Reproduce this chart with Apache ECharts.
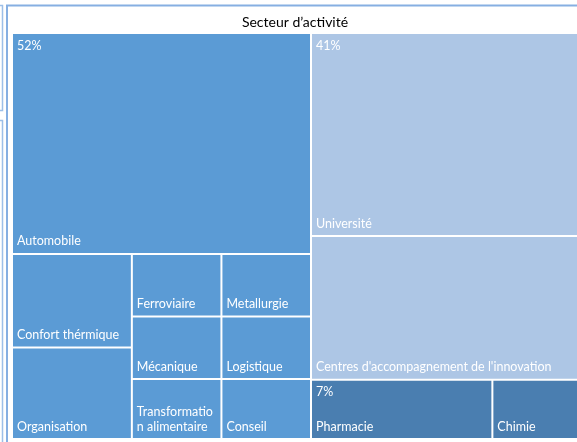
<!DOCTYPE html>
<html>
<head>
<meta charset="utf-8">
<script src="https://cdn.jsdelivr.net/npm/echarts@6/dist/echarts.min.js"></script>
<style>
  html, body { margin: 0; padding: 0; background: #fff; }
  #chart { width: 577px; height: 442px; }
</style>
</head>
<body>
<div id="chart"></div>
<script>
// Parent categories (shown in the top-left corner of each block)
const groupLabels = ['52%', '41%', '7%'];

// Sectors and their shares (%) per parent category
const sectorsA = ['Automobile', 'Confort thérmique', 'Organisation', 'Ferroviaire', 'Metallurgie',
                  'Mécanique', 'Transformation alimentaire', 'Logistique', 'Conseil'];
const sharesA  = [28.3, 4.8, 4.7, 2.4, 2.4, 2.4, 2.3, 2.4, 2.3];

const sectorsB = ['Université', "Centres d'accompagnement de l'innovation"];
const sharesB  = [24, 17];

const sectorsC = ['Pharmacie', 'Chimie'];
const sharesC  = [4.6, 2.4];

const palette = ['#5B9BD5', '#ADC6E5', '#4A7EB0'];
const FONT = 'Lato';
const LABEL_SIZE = 12.5;

const groups = [[sectorsA, sharesA], [sectorsB, sharesB], [sectorsC, sharesC]];

function buildTree(transparent) {
  return groups.map(([names, values], g) => ({
    name: groupLabels[g],
    itemStyle: { color: transparent ? 'rgba(0,0,0,0)' : palette[g] },
    children: names.map((n, i) => ({
      name: n,
      value: values[i],
      itemStyle: { color: transparent ? 'rgba(0,0,0,0)' : palette[g] }
    }))
  }));
}

const firstLeaves = new Set(groups.map(([names]) => names[0]));

function levelsFor(border) {
  return [
    { itemStyle: { borderWidth: 0, gapWidth: 2, borderColor: border } },
    { itemStyle: { borderWidth: 0, gapWidth: 2, borderColor: border } },
    { itemStyle: { borderWidth: 0 } }
  ];
}

const box = { left: 13, top: 34, width: 573, height: 404 };

const chart = echarts.init(document.getElementById('chart'), null, { renderer: 'canvas' });
chart.setOption({
  animation: false,
  title: {
    text: 'Secteur d\u2019activité',
    left: 290, top: 10, textAlign: 'center',
    textStyle: { fontFamily: FONT, fontSize: 14, fontWeight: 'normal', color: '#000' }
  },
  graphic: [
    { type: 'polyline', silent: true,
      shape: { points: [[0, 5.5], [2.5, 5.5], [2.5, 110.5], [0, 110.5]] },
      style: { stroke: '#9DBFE8', lineWidth: 1.5, fill: null } },
    { type: 'polyline', silent: true,
      shape: { points: [[0, 120.5], [2.5, 120.5], [2.5, 442]] },
      style: { stroke: '#9DBFE8', lineWidth: 1.5, fill: null } },
    { type: 'polyline', silent: true,
      shape: { points: [[7, 442], [7, 5.5], [577, 5.5]] },
      style: { stroke: '#86AFE2', lineWidth: 2, fill: null } }
  ],
  series: [
    {
      type: 'treemap',
      ...box,
      roam: false, nodeClick: false, sort: false, squareRatio: 1,
      breadcrumb: { show: false },
      visibleMin: 0,
      levels: levelsFor('#fff'),
      label: {
        show: true, position: 'insideBottomLeft', distance: 0,
        padding: [0, 2, 4, 4], color: '#fff',
        fontFamily: FONT, fontSize: LABEL_SIZE, overflow: 'breakAll', lineHeight: 15
      },
      data: buildTree(false)
    },
    {
      type: 'treemap',
      ...box,
      silent: true,
      roam: false, nodeClick: false, sort: false, squareRatio: 1,
      breadcrumb: { show: false },
      visibleMin: 0,
      levels: levelsFor('rgba(0,0,0,0)'),
      label: {
        show: true, position: 'insideTopLeft', distance: 0,
        padding: [5, 4, 0, 4], color: '#fff',
        fontFamily: FONT, fontSize: LABEL_SIZE,
        formatter: p => firstLeaves.has(p.name) ? p.treePathInfo[1].name : ''
      },
      data: buildTree(true)
    }
  ]
});
</script>
</body>
</html>
